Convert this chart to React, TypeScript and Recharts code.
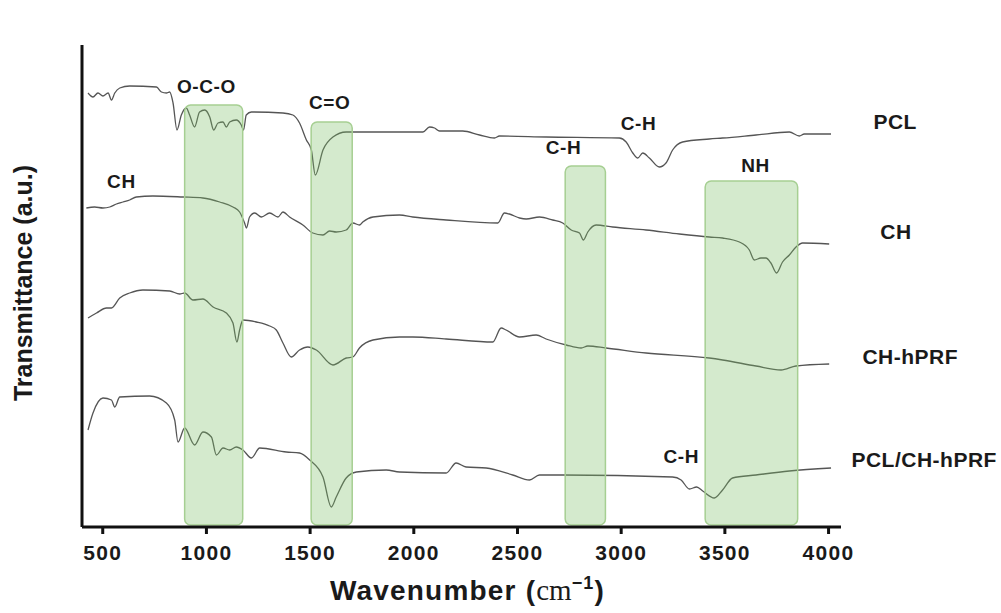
import React from 'react';
import { LineChart, Line, XAxis, YAxis, ReferenceArea, ReferenceDot } from 'recharts';

// FTIR spectra, values (transmittance in arbitrary units)
const X_TICKS = [500, 1000, 1500, 2000, 2500, 3000, 3500, 4000];

const PCL: [number, number][] = [
  [429, 434], [453, 430], [477, 434], [501, 431], [526, 434], [542, 427], [558, 434], [582, 439],
  [630, 441], [759, 440], [783, 435], [807, 434], [823, 435], [839, 424], [858, 397], [879, 412],
  [903, 419], [919, 412], [943, 400], [967, 415], [992, 417], [1016, 410], [1035, 397], [1056, 404],
  [1080, 405], [1096, 400], [1112, 405], [1144, 407], [1168, 402], [1179, 397], [1192, 412],
  [1217, 415], [1369, 414], [1417, 412], [1449, 404], [1482, 387], [1506, 377], [1525, 352],
  [1562, 377], [1610, 390], [1674, 395], [1835, 395], [1931, 395], [2044, 395], [2076, 400],
  [2100, 399], [2124, 396], [2236, 396], [2317, 392], [2389, 389], [2413, 391], [2638, 390],
  [2991, 389], [3024, 385], [3056, 374], [3080, 369], [3104, 374], [3136, 369], [3184, 360],
  [3216, 364], [3248, 377], [3296, 385], [3425, 388], [3489, 389], [3650, 392], [3811, 395],
  [3859, 391], [3883, 393], [4012, 393],
];

const CH: [number, number][] = [
  [421, 319], [461, 320], [501, 319], [534, 320], [566, 323], [598, 325], [630, 327], [662, 330],
  [742, 331], [887, 330], [983, 329], [1064, 325], [1128, 320], [1160, 315], [1184, 304],
  [1193, 299], [1208, 310], [1233, 314], [1265, 310], [1305, 314], [1345, 310], [1369, 315],
  [1401, 310], [1465, 302], [1513, 294], [1562, 292], [1594, 296], [1626, 295], [1674, 297],
  [1706, 304], [1738, 302], [1754, 305], [1803, 310], [1931, 312], [1995, 310], [2156, 307],
  [2405, 304], [2437, 314], [2461, 313], [2510, 309], [2542, 308], [2606, 310], [2670, 307],
  [2718, 304], [2759, 297], [2799, 294], [2818, 287], [2839, 295], [2879, 302], [2959, 300],
  [3120, 297], [3281, 293], [3425, 290], [3489, 289], [3570, 285], [3618, 277], [3642, 267],
  [3674, 269], [3698, 269], [3722, 264], [3749, 254], [3778, 265], [3811, 272], [3843, 280],
  [3875, 284], [4003, 283],
];

const CH_HPRF: [number, number][] = [
  [429, 209], [470, 214], [518, 219], [542, 219], [582, 229], [630, 234], [694, 237], [823, 236],
  [871, 233], [895, 234], [935, 227], [983, 228], [1032, 220], [1096, 214], [1128, 204],
  [1147, 185], [1160, 197], [1176, 207], [1241, 205], [1305, 201], [1337, 197], [1369, 184],
  [1409, 170], [1449, 177], [1489, 180], [1530, 177], [1610, 162], [1674, 169], [1706, 170],
  [1738, 179], [1803, 187], [1931, 190], [1995, 190], [2156, 188], [2381, 185], [2421, 199],
  [2445, 197], [2510, 190], [2590, 192], [2638, 188], [2735, 182], [2807, 179], [2839, 181],
  [2927, 179], [3120, 174], [3425, 169], [3489, 167], [3650, 161], [3771, 157], [3843, 161],
  [4003, 163],
];

const PCL_CH_HPRF: [number, number][] = [
  [429, 97], [453, 114], [501, 129], [542, 127], [558, 120], [582, 130], [726, 131], [807, 124],
  [847, 107], [863, 85], [895, 99], [943, 82], [983, 95], [1024, 90], [1048, 72], [1080, 79],
  [1112, 77], [1144, 80], [1176, 77], [1217, 69], [1257, 79], [1385, 75], [1449, 74], [1498, 67],
  [1562, 50], [1602, 20], [1626, 30], [1674, 49], [1723, 55], [1867, 57], [1931, 55], [2156, 54],
  [2204, 64], [2252, 60], [2349, 59], [2477, 52], [2558, 47], [2606, 52], [2718, 52], [3248, 50],
  [3289, 47], [3329, 38], [3364, 40], [3393, 36], [3449, 29], [3489, 37], [3537, 49], [3650, 52],
  [3811, 56], [4012, 59],
];

const SERIES = [
  { name: 'PCL', points: PCL },
  { name: 'CH', points: CH },
  { name: 'CH-hPRF', points: CH_HPRF },
  { name: 'PCL/CH-hPRF', points: PCL_CH_HPRF },
];

// shaded bands: [from, to, top]
const BANDS: [number, number, number][] = [
  [895, 1175, 422],
  [1505, 1703, 405],
  [2730, 2924, 361],
  [3405, 3851, 346],
];

// annotation text anchored in data units
const PEAK_LABELS: [string, number, number][] = [
  ['O-C-O', 1000, 441],
  ['C=O', 1594, 425],
  ['CH', 590, 346],
  ['C-H', 3084, 404],
  ['C-H', 2722, 380],
  ['NH', 3648, 362],
  ['C-H', 3290, 71],
];

const NAME_LABELS: [string, number, number][] = [
  ['PCL', 4321, 405],
  ['CH', 4325, 295],
  ['CH-hPRF', 4394, 170],
  ['PCL/CH-hPRF', 4461, 67],
];

const FONT = '"Liberation Sans", Arial, sans-serif';
const INK = '#1a1a1a';

function XTitle({ viewBox }: any) {
  const cx = viewBox.x + viewBox.width / 2 + 6;
  const y = viewBox.y + 73;
  return (
    <text x={cx} y={y} textAnchor="middle" fill={INK} fontFamily={FONT} fontWeight={700} fontSize={28} letterSpacing={1.2}>
      <tspan>Wavenumber (</tspan>
      <tspan fontFamily='"Liberation Serif", serif' fontWeight={400} fontSize={29} letterSpacing={0}>cm</tspan>
      <tspan dy={-11} fontSize={18}>−1</tspan>
      <tspan dy={11}>)</tspan>
    </text>
  );
}

function YTitle({ viewBox }: any) {
  const x = 32;
  const y = viewBox.y + viewBox.height / 2 - 3;
  return (
    <text
      x={x}
      y={y}
      transform={`rotate(-90 ${x} ${y})`}
      textAnchor="middle"
      fill={INK}
      fontFamily={FONT}
      fontWeight={700}
      fontSize={25}
    >
      Transmittance (a.u.)
    </text>
  );
}

export default function App() {
  return (
    <div style={{ position: 'absolute', left: 0, top: 0, width: 1001, height: 613, background: '#fff' }}>
      <LineChart width={1001} height={613} margin={{ top: 45, right: 160, bottom: 16, left: 0 }}>
        <XAxis
          type="number"
          dataKey="x"
          domain={[400, 4060]}
          ticks={X_TICKS}
          allowDuplicatedCategory={false}
          height={70}
          axisLine={{ stroke: '#111', strokeWidth: 3 }}
          tickLine={{ stroke: '#111', strokeWidth: 3 }}
          tickSize={7}
          tickMargin={11}
          tick={{ fill: INK, fontSize: 21, fontWeight: 700, fontFamily: FONT, letterSpacing: 1.3 }}
          label={XTitle}
        />
        <YAxis
          type="number"
          domain={[0, 482]}
          width={82}
          tick={false}
          tickLine={false}
          axisLine={{ stroke: '#111', strokeWidth: 3 }}
          label={YTitle}
        />
        {SERIES.map((s) => (
          <Line
            key={s.name}
            data={s.points.map(([x, y]) => ({ x, y }))}
            dataKey="y"
            name={s.name}
            type="monotone"
            stroke="#555"
            strokeWidth={1.3}
            dot={false}
            activeDot={false}
            isAnimationActive={false}
          />
        ))}
        {BANDS.map(([x1, x2, top]) => (
          <ReferenceArea
            key={x1}
            x1={x1}
            x2={x2}
            y1={2}
            y2={top}
            fill="rgb(120,190,100)"
            fillOpacity={0.32}
            stroke="#a6cf92"
            strokeWidth={1.5}
            radius={6}
            zIndex={450}
          />
        ))}
        {PEAK_LABELS.map(([text, x, y], i) => (
          <ReferenceDot
            key={'p' + i}
            x={x}
            y={y}
            r={0}
            fill="none"
            stroke="none"
            ifOverflow="visible"
            label={{ value: text, position: 'center', fill: INK, fontSize: 19, fontWeight: 700, fontFamily: FONT, letterSpacing: 0.6 }}
          />
        ))}
        {NAME_LABELS.map(([text, x, y], i) => (
          <ReferenceDot
            key={'n' + i}
            x={x}
            y={y}
            r={0}
            fill="none"
            stroke="none"
            ifOverflow="visible"
            label={{ value: text, position: 'center', fill: INK, fontSize: 21, fontWeight: 700, fontFamily: FONT, letterSpacing: 0.5 }}
          />
        ))}
      </LineChart>
    </div>
  );
}
